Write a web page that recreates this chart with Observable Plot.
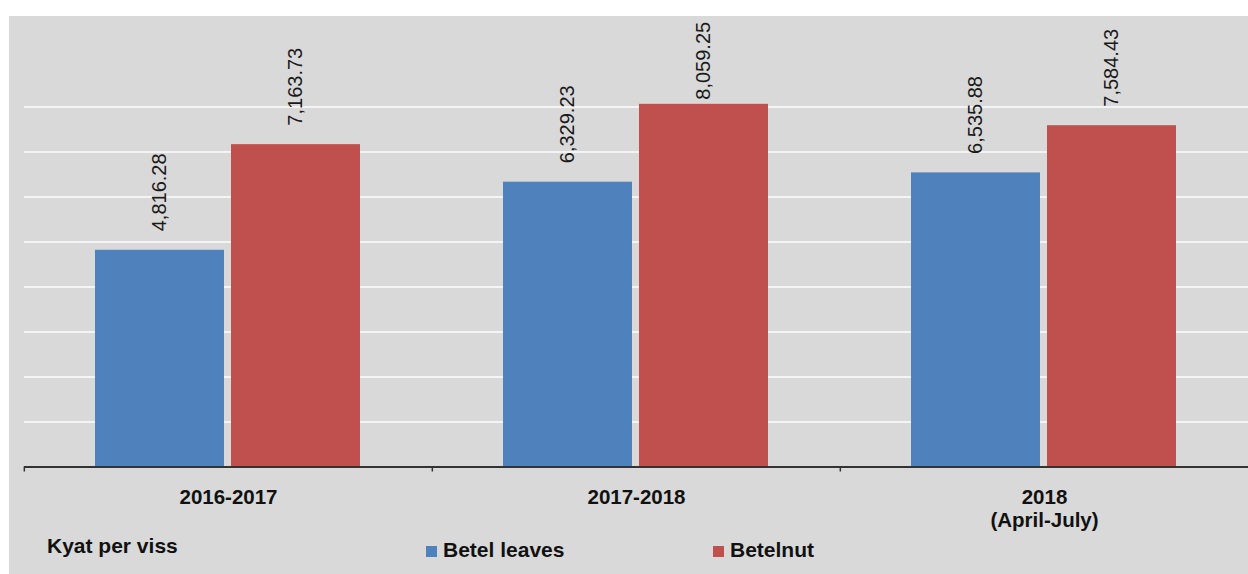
<!DOCTYPE html>
<html>
<head>
<meta charset="utf-8">
<script src="https://cdn.jsdelivr.net/npm/d3@7"></script>
<script src="https://cdn.jsdelivr.net/npm/@observablehq/plot@0.6"></script>
<style>
  html, body { margin: 0; padding: 0; background: #ffffff; width: 1248px; height: 574px; overflow: hidden; }
  #chart { position: absolute; left: 9px; top: 16px; width: 1239px; height: 558px; background: #d9d9d9;
           font-family: "Liberation Sans", Arial, sans-serif; }
  #chart svg { position: absolute; left: 0; top: 0; }
  .lg { position: absolute; font-size: 21px; line-height: 21px; font-weight: bold; color: #111; white-space: nowrap; }
  .sw { position: absolute; width: 11px; height: 11px; }
</style>
</head>
<body>
<div id="chart"></div>
<script>
// ---- data ----
const categories = ["2016-2017", "2017-2018", "2018\n(April-July)"];
const series = ["Betel leaves", "Betelnut"];
const betelLeaves = [4816.28, 6329.23, 6535.88];
const betelnut = [7163.73, 8059.25, 7584.43];
const colors = ["#4f81bd", "#c0504d"];
const gridValues = [1000, 2000, 3000, 4000, 5000, 6000, 7000, 8000];
const unitLabel = "Kyat per viss";

const rows = categories.flatMap((c, i) => [
  {group: c, series: series[0], value: betelLeaves[i]},
  {group: c, series: series[1], value: betelnut[i]}
]);

const W = 1239, H = 520, ML = 14, MR = 0, MT = 0.5, MB = 69.5;
const facetW = (W - ML - MR) / categories.length;
const labelCap = 7740; // labels kept inside the plot area (as the source does)
const fmt = d3.format(",.2f");

const chart = Plot.plot({
  width: W, height: H,
  marginLeft: ML, marginRight: MR, marginTop: MT, marginBottom: MB,
  style: {background: "transparent", fontFamily: "Liberation Sans, Arial, sans-serif", overflow: "visible"},
  fx: {domain: categories, padding: 0, axis: null},
  x: {domain: series, paddingInner: 0.051, paddingOuter: 0.515, axis: null},
  y: {domain: [0, 10000], axis: null},
  color: {domain: series, range: colors},
  marks: [
    Plot.ruleY(gridValues, {stroke: "#f4f4f4", strokeWidth: 1.8}),
    Plot.barY(rows, {fx: "group", x: "series", y: "value", fill: "series"}),
    Plot.ruleY([0], {stroke: "#333333", strokeWidth: 2}),
    Plot.ruleX(categories, {fx: d => d, x: null, y1: 0, y2: 0, insetBottom: -5, dx: -facetW / 2, stroke: "#333333", strokeWidth: 1.5}),
    Plot.text(rows, {
      fx: "group", x: "series", y: d => Math.min(d.value, labelCap),
      text: d => fmt(d.value), rotate: -90, textAnchor: "start", lineAnchor: "middle",
      dy: -19, fontSize: 20, fill: "#1a1a1a"
    }),
    Plot.text(categories, {
      fx: d => d, text: d => d, frameAnchor: "bottom", lineAnchor: "top",
      dy: 21, fontSize: 20.5, fontWeight: "bold", lineHeight: 1.12, fill: "#111111"
    })
  ]
});
const root = document.getElementById("chart");
root.appendChild(chart);

// legend / unit caption below the svg area
function addText(txt, left, top) {
  const d = document.createElement("div");
  d.className = "lg"; d.textContent = txt;
  d.style.left = left + "px"; d.style.top = top + "px";
  root.appendChild(d);
}
function addSwatch(color, left, top) {
  const s = document.createElement("div");
  s.className = "sw"; s.style.background = color;
  s.style.left = left + "px"; s.style.top = top + "px";
  root.appendChild(s);
}
addText(unitLabel, 38, 519);
const legendX = [417, 704];
series.forEach((s, i) => {
  addSwatch(colors[i], legendX[i], 530);
  addText(s, legendX[i] + 17, 523);
});
</script>
</body>
</html>
